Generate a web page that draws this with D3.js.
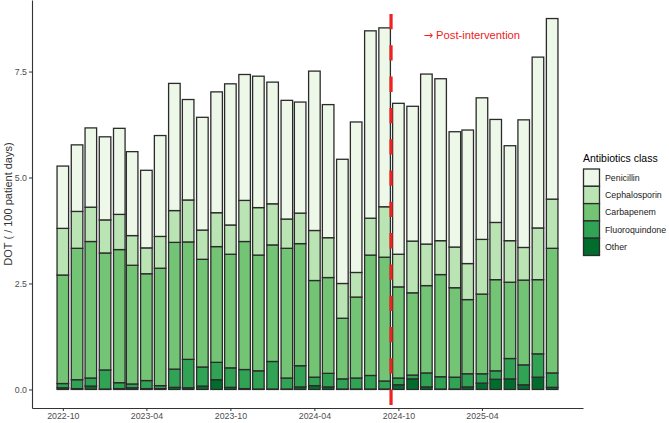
<!DOCTYPE html>
<html>
<head>
<meta charset="utf-8">
<style>
    body {
        margin: 0;
        background: #fff;
    }

    svg {
        font-family: 'Liberation Sans', Arial, sans-serif;
    }

    .axis .domain {
        stroke: #333;
        stroke-width: 1.1px;
    }

    .axis .tick line {
        stroke: #333;
        stroke-width: 1px;
    }

    .axis .tick text {
        fill: #4d4d4d;
        font-size: 8.8px;
    }

    .legend-label {
        font-size: 8.8px;
        fill: #1a1a1a;
    }
</style>
</head>
<body>
<svg width="669" height="423"></svg>

<script src="https://d3js.org/d3.v7.min.js"></script>
<script>
    // one bar per month, 2022-10 .. 2025-09
    const months = [
        "2022-10", "2022-11", "2022-12", "2023-01", "2023-02", "2023-03",
        "2023-04", "2023-05", "2023-06", "2023-07", "2023-08", "2023-09",
        "2023-10", "2023-11", "2023-12", "2024-01", "2024-02", "2024-03",
        "2024-04", "2024-05", "2024-06", "2024-07", "2024-08", "2024-09",
        "2024-10", "2024-11", "2024-12", "2025-01", "2025-02", "2025-03",
        "2025-04", "2025-05", "2025-06", "2025-07", "2025-08", "2025-09"
    ];

    // DOT per 100 patient days, by class
    const other = [
        0.04, 0.02, 0.08, 0.01, 0.02, 0.04, 0.02, 0.02, 0.05, 0.04, 0.08, 0.23,
        0.05, 0.02, 0.01, 0.01, 0.01, 0.06, 0.09, 0.06, 0.01, 0.01, 0.01, 0.01,
        0.11, 0.25, 0.06, 0.01, 0.01, 0.06, 0.15, 0.24, 0.25, 0.11, 0.29, 0.05
    ];
    const fluoroquindone = [
        0.10, 0.21, 0.19, 0.45, 0.14, 0.09, 0.19, 0.07, 0.43, 0.67, 0.45, 0.41,
        0.46, 0.45, 0.43, 0.65, 0.26, 0.50, 0.20, 0.32, 0.24, 0.26, 0.32, 0.19,
        0.16, 0.09, 0.33, 0.29, 0.28, 0.31, 0.22, 0.20, 0.48, 0.47, 0.55, 0.34
    ];
    const carbapenem = [
        2.56, 3.10, 3.22, 2.76, 3.14, 2.80, 2.52, 2.77, 2.99, 2.77, 2.54, 2.73,
        2.68, 3.02, 2.73, 2.75, 3.06, 2.88, 2.28, 2.26, 1.43, 1.91, 2.84, 2.92,
        2.15, 1.94, 2.06, 2.41, 2.11, 1.75, 1.88, 2.15, 1.80, 2.00, 1.75, 2.94
    ];
    const cephalosporin = [
        1.10, 0.87, 0.81, 0.78, 0.83, 0.70, 0.61, 0.75, 0.75, 0.99, 0.69, 0.80,
        0.69, 0.97, 1.12, 0.97, 0.69, 0.72, 1.18, 0.94, 0.82, 0.58, 0.87, 1.19,
        0.77, 1.22, 0.98, 0.80, 0.96, 0.85, 1.29, 1.35, 0.98, 0.77, 1.22, 1.16
    ];
    const penicillin = [
        1.47, 1.57, 1.87, 1.96, 2.03, 1.98, 1.83, 2.38, 3.00, 2.37, 2.66, 2.85,
        3.33, 2.97, 3.10, 2.87, 2.80, 2.62, 3.76, 3.14, 2.93, 3.55, 4.42, 4.22,
        3.56, 3.18, 4.01, 3.82, 2.72, 3.15, 3.34, 2.43, 2.24, 3.01, 4.03, 4.26
    ];

    const classes = ["Other", "Fluoroquindone", "Carbapenem", "Cephalosporin", "Penicillin"];
    const classColors = ["#006D2C", "#31A354", "#74C476", "#BAE4B3", "#EDF8E9"];

    const xTicks = ["2022-10", "2023-04", "2023-10", "2024-04", "2024-10", "2025-04"];
    const yTicks = [0, 2.5, 5, 7.5];

    const interventionDate = "2024-09-15";

    let width = 669;
    let height = 423;
    let margin = { top: 0, right: 86, bottom: 15, left: 32 };

    let svg = d3.select("svg");

    let parseMonth = d3.utcParse("%Y-%m");
    let parseDay = d3.utcParse("%Y-%m-%d");

    let data = months.map((m, i) => ({
        date: parseMonth(m),
        "Other": other[i],
        "Fluoroquindone": fluoroquindone[i],
        "Carbapenem": carbapenem[i],
        "Cephalosporin": cephalosporin[i],
        "Penicillin": penicillin[i]
    }));

    let series = d3.stack().keys(classes)(data);

    let color = d3.scaleOrdinal()
        .domain(classes)
        .range(classColors);

    // bar width = 0.9 * 28 days (like ggplot's resolution for dates)
    let dayMs = 24 * 3600 * 1000;
    let halfBar = 0.45 * 28 * dayMs;
    let xMin = +data[0].date - halfBar;
    let xMax = +data[data.length - 1].date + halfBar;
    let xPad = (xMax - xMin) * 0.05;

    let x = d3.scaleUtc()
        .domain([new Date(xMin - xPad), new Date(xMax + xPad)])
        .range([margin.left, width - margin.right]);

    let yMax = d3.max(series[series.length - 1], d => d[1]);
    let yPad = yMax * 0.05;

    let y = d3.scaleLinear()
        .domain([-yPad, yMax + yPad])
        .range([height - margin.bottom, margin.top]);

    let barW = x(new Date(xMin + 2 * halfBar)) - x(new Date(xMin));

    // bars
    svg.append("g")
        .selectAll("g")
        .data(series)
        .join("g")
        .attr("fill", d => color(d.key))
        .selectAll("rect")
        .data(d => d)
        .join("rect")
        .attr("x", d => x(d.data.date) - barW / 2)
        .attr("width", barW)
        .attr("y", d => y(d[1]))
        .attr("height", d => y(d[0]) - y(d[1]))
        .attr("stroke", "#2b2b2b")
        .attr("stroke-width", 1.3);

    // intervention line
    let xi = x(parseDay(interventionDate));
    svg.append("line")
        .attr("x1", xi)
        .attr("x2", xi)
        .attr("y1", margin.top)
        .attr("y2", height - margin.bottom)
        .attr("stroke", "#ee2222")
        .attr("stroke-width", 3.2)
        .attr("stroke-dasharray", "15.3 16")
        .attr("stroke-dashoffset", 17.3);

    let note = svg.append("text")
        .attr("x", x(parseDay("2024-11-25")))
        .attr("y", y(8.36))
        .attr("dy", "0.35em")
        .style("font-size", "11.2px")
        .style("fill", "#ee2222");
    note.append("tspan")
        .style("font-family", "'DejaVu Sans'")
        .text("\u2192");
    note.append("tspan")
        .text(" Post-intervention");

    // axes
    let xAxis = d3.axisBottom(x)
        .tickValues(xTicks.map(parseMonth))
        .tickFormat(d3.utcFormat("%Y-%m"))
        .tickSize(3)
        .tickSizeOuter(0)
        .tickPadding(2);

    svg.append("g")
        .attr("class", "x axis")
        .attr("transform", `translate(0,${height - margin.bottom})`)
        .call(xAxis);

    let yAxis = d3.axisLeft(y)
        .tickValues(yTicks)
        .tickFormat(d3.format(".1f"))
        .tickSize(3)
        .tickSizeOuter(0)
        .tickPadding(2);

    svg.append("g")
        .attr("class", "y axis")
        .attr("transform", `translate(${margin.left},0)`)
        .call(yAxis);

    svg.append("text")
        .attr("transform", `translate(12,${(margin.top + height - margin.bottom) / 2}) rotate(-90)`)
        .attr("text-anchor", "middle")
        .style("font-size", "11px")
        .style("fill", "#333")
        .text("DOT ( / 100 patient days)");

    // legend
    let legend = svg.append("g")
        .attr("transform", `translate(${width - margin.right},149)`);

    legend.append("text")
        .attr("x", 0)
        .attr("y", 13)
        .style("font-size", "10.5px")
        .style("fill", "#000")
        .text("Antibiotics class");

    let keyH = 17.3;
    let legendOrder = classes.slice().reverse();

    let keys = legend.selectAll(".key")
        .data(legendOrder)
        .join("g")
        .attr("class", "key")
        .attr("transform", (d, i) => `translate(0,${20 + i * keyH})`);

    keys.append("rect")
        .attr("x", 0.5)
        .attr("width", 16)
        .attr("height", keyH)
        .attr("fill", d => color(d))
        .attr("stroke", "#2b2b2b")
        .attr("stroke-width", 1.3);

    keys.append("text")
        .attr("class", "legend-label")
        .attr("x", 22)
        .attr("y", keyH / 2)
        .attr("dy", "0.35em")
        .text(d => d);
</script>
</body>
</html>
